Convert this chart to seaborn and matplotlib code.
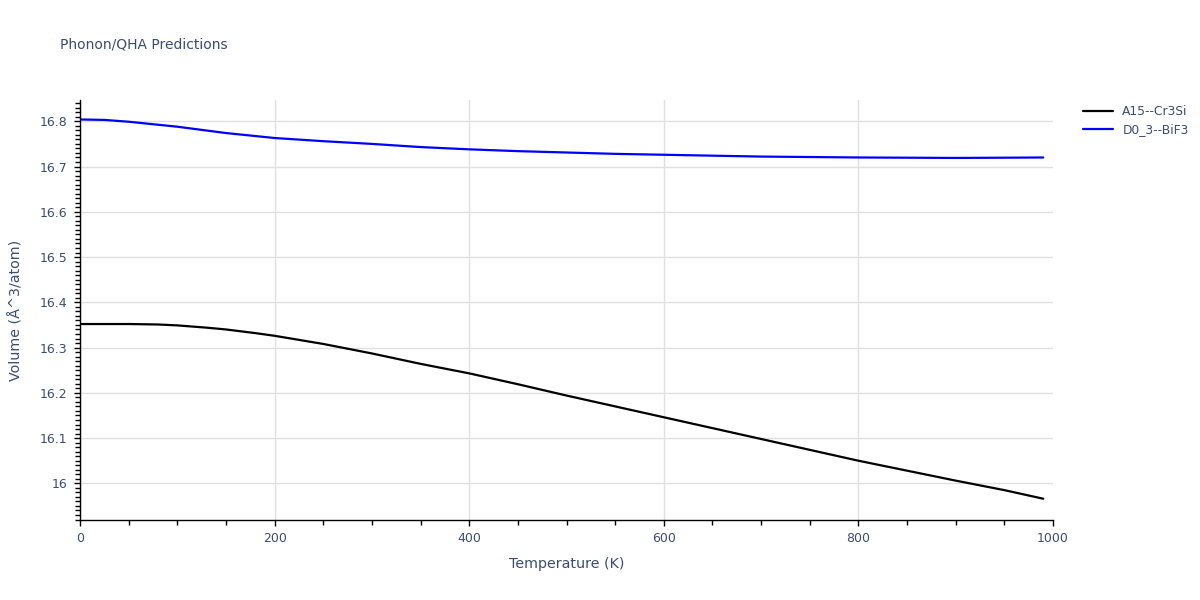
import numpy as np
import pandas as pd
import matplotlib
matplotlib.use("Agg")
import matplotlib.pyplot as plt
import seaborn as sns
from matplotlib.ticker import MultipleLocator, FuncFormatter

# -----------------------------
# Data
# -----------------------------

temps_a15 = [0, 50, 80, 100, 130, 150, 180, 200, 250, 300, 350, 400, 450,
             500, 550, 600, 650, 700, 750, 800, 850, 900, 950, 990]
vol_a15 = [16.352, 16.352, 16.351, 16.349, 16.344, 16.340, 16.332, 16.326,
           16.308, 16.287, 16.264, 16.243, 16.219, 16.194, 16.170, 16.146,
           16.122, 16.098, 16.074, 16.050, 16.028, 16.006, 15.985, 15.966]

temps_d03 = [0, 25, 50, 100, 150, 200, 250, 300, 350, 400, 450, 500, 550,
             600, 650, 700, 750, 800, 850, 900, 950, 990]
vol_d03 = [16.804, 16.803, 16.799, 16.788, 16.774, 16.763, 16.756, 16.750,
           16.743, 16.738, 16.734, 16.731, 16.728, 16.726, 16.724, 16.722,
           16.721, 16.720, 16.7195, 16.719, 16.7195, 16.720]

names = ["A15--Cr3Si", "D0_3--BiF3"]
colors = ["black", "blue"]

df = pd.concat([
    pd.DataFrame({"T": temps_a15, "V": vol_a15, "phase": names[0]}),
    pd.DataFrame({"T": temps_d03, "V": vol_d03, "phase": names[1]}),
])

# -----------------------------
# Plot
# -----------------------------

sns.set_style("white")
plt.rcParams['font.family'] = ['DejaVu Sans']
text_col = "#3b4d6e"

fig = plt.figure(figsize=(12, 6), dpi=100)
ax = fig.add_axes([80 / 1200, 80 / 600, 973 / 1200, 420 / 600])

sns.lineplot(data=df, x="T", y="V", hue="phase", palette=colors,
             linewidth=1.6, ax=ax, sort=False)

ax.set_xlim(0, 1000)
ax.set_ylim(15.919, 16.847)

ax.xaxis.set_major_locator(MultipleLocator(200))
ax.xaxis.set_minor_locator(MultipleLocator(50))
ax.yaxis.set_major_locator(MultipleLocator(0.1))
ax.yaxis.set_minor_locator(MultipleLocator(0.01))
ax.yaxis.set_major_formatter(FuncFormatter(lambda v, p: f"{v:.1f}".rstrip("0").rstrip(".")))

ax.grid(True, which="major", color="#e0e0e0", linewidth=1)
for side in ["top", "right"]:
    ax.spines[side].set_visible(False)
for side in ["left", "bottom"]:
    ax.spines[side].set_color("black")
    ax.spines[side].set_linewidth(1)

ax.tick_params(axis="both", which="major", direction="out", length=4,
               width=1, color="black", labelsize=9, labelcolor=text_col, pad=5)
ax.tick_params(axis="both", which="minor", direction="out", length=3.5,
               width=1, color="black")
ax.tick_params(axis="x", which="both", bottom=True)
ax.tick_params(axis="y", which="both", left=True)

ax.set_xlabel("Temperature (K)", fontsize=10.3, color=text_col, labelpad=8)
ax.set_ylabel("Volume (Å^3/atom)", fontsize=10.3, color=text_col, labelpad=12)

fig.text(60 / 1200, 1 - 45 / 600, "Phonon/QHA Predictions", fontsize=10,
         color=text_col, va="center", ha="left")

leg = ax.legend(loc="upper left", bbox_to_anchor=(1.026, 1.0), frameon=False,
                fontsize=8.8, handlelength=2.4, borderaxespad=0,
                labelspacing=0.45)
for t in leg.get_texts():
    t.set_color(text_col)

# no grid line on the right edge
fig.canvas.draw()
for tick in ax.xaxis.get_major_ticks():
    if abs(tick.get_loc() - 1000) < 1e-6:
        tick.gridline.set_visible(False)

fig.savefig("out.png", dpi=100)
